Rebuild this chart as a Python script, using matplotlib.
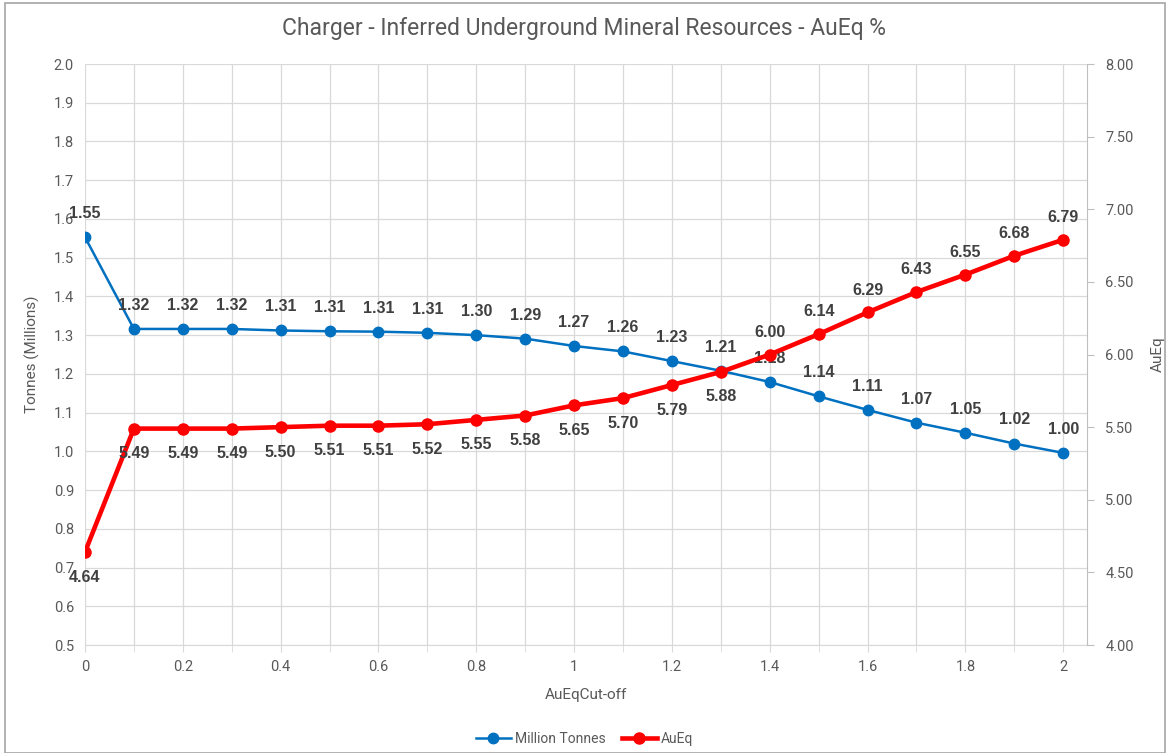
import numpy as np
import matplotlib.pyplot as plt
from matplotlib.patches import Rectangle
from matplotlib.ticker import MultipleLocator, FixedLocator

# Data
cutoff = [0, 0.1, 0.2, 0.3, 0.4, 0.5, 0.6, 0.7, 0.8, 0.9, 1.0,
          1.1, 1.2, 1.3, 1.4, 1.5, 1.6, 1.7, 1.8, 1.9, 2.0]
tonnes = [1.553, 1.316, 1.316, 1.316, 1.312, 1.31, 1.309, 1.306, 1.30, 1.291, 1.272,
          1.258, 1.233, 1.208, 1.179, 1.142, 1.107, 1.074, 1.048, 1.02, 0.996]
aueq = [4.64, 5.49, 5.49, 5.49, 5.50, 5.51, 5.51, 5.52, 5.55, 5.58, 5.65,
        5.70, 5.79, 5.88, 6.00, 6.14, 6.29, 6.43, 6.55, 6.68, 6.79]

title = 'Charger - Inferred Underground Mineral Resources - AuEq %'
grey = '#595959'
lab_col = '#404040'
blue = '#0070C0'
red = '#FF0000'

plt.rcParams['font.family'] = ['Roboto', 'DejaVu Sans']

fig = plt.figure(figsize=(11.69, 7.53), dpi=100)
ax = fig.add_axes([0.0727, 0.1434, 0.8573, 0.7716])
ax2 = ax.twinx()

# left axis
ax.set_xlim(0, 2.049)
ax.set_ylim(0.5, 2.0)
ax.xaxis.set_major_locator(FixedLocator(np.arange(0, 2.01, 0.2)))
ax.xaxis.set_minor_locator(FixedLocator(np.arange(0, 2.01, 0.1)))
ax.set_xticklabels(['0', '0.2', '0.4', '0.6', '0.8', '1', '1.2', '1.4', '1.6', '1.8', '2'])
ax.yaxis.set_major_locator(MultipleLocator(0.1))
ax.set_yticklabels([f'{v:.1f}' for v in ax.get_yticks()])
ax.grid(True, which='both', axis='x', color='#D9D9D9', lw=0.9)
ax.grid(True, which='major', axis='y', color='#D9D9D9', lw=0.9)
ax.set_axisbelow(True)
ax.tick_params(axis='y', length=0, labelsize=10.5, labelcolor=grey, pad=8)
ax.tick_params(axis='x', which='both', length=5, color='#D9D9D9', labelsize=10.5,
               labelcolor=grey, pad=6)
for s in ['top', 'left', 'right']:
    ax.spines[s].set_visible(False)
ax.spines['bottom'].set_color('#D9D9D9')

ax2.set_ylim(4.0, 8.0)
ax2.yaxis.set_major_locator(MultipleLocator(0.5))
ax2.set_yticklabels([f'{v:.2f}' for v in ax2.get_yticks()])
ax2.tick_params(axis='y', length=5, color='#BFBFBF', labelsize=10.5, labelcolor=grey, pad=8)
for s in ['top', 'left', 'bottom']:
    ax2.spines[s].set_visible(False)
ax2.spines['right'].set_color('#BFBFBF')

# series
l1, = ax.plot(cutoff, tonnes, color=blue, lw=1.8, marker='o', markersize=7.5,
              label='Million Tonnes', zorder=3)
l2, = ax2.plot(cutoff, aueq, color=red, lw=3.3, marker='o', markersize=8,
               label='AuEq', zorder=3)

# data labels
for x, v in zip(cutoff, tonnes):
    ax.annotate(f'{v:.2f}', (x, v), xytext=(0, 17), textcoords='offset points',
                ha='center', va='center', fontsize=11.5, fontweight='bold',
                color=lab_col, family='Liberation Sans')
for x, v in zip(cutoff, aueq):
    dy = -18 if x <= 1.35 else 16
    ax2.annotate(f'{v:.2f}', (x, v), xytext=(0, dy), textcoords='offset points',
                 ha='center', va='center', fontsize=11.5, fontweight='bold',
                 color=lab_col, family='Liberation Sans')

ax.set_xlabel('AuEqCut-off', fontsize=11, color=grey, labelpad=10)
ax.set_ylabel('Tonnes (Millions)', fontsize=11, color=grey, labelpad=10)
ax2.set_ylabel('AuEq', fontsize=11, color=grey, labelpad=12)
fig.text(0.5, 0.962, title, ha='center', va='center', fontsize=16.5, color=grey)

fig.legend(handles=[l1, l2], loc='center', bbox_to_anchor=(0.5, 0.019), ncol=2,
           frameon=False, fontsize=10, labelcolor=grey, handlelength=2.5,
           columnspacing=1.2, handletextpad=0.3)

# chart frame
fig.patches.append(Rectangle((0.004, 0.0), 0.993, 0.996, transform=fig.transFigure,
                             fill=False, edgecolor='#A6A6A6', lw=1.2))

plt.savefig('out.png', dpi=100)
